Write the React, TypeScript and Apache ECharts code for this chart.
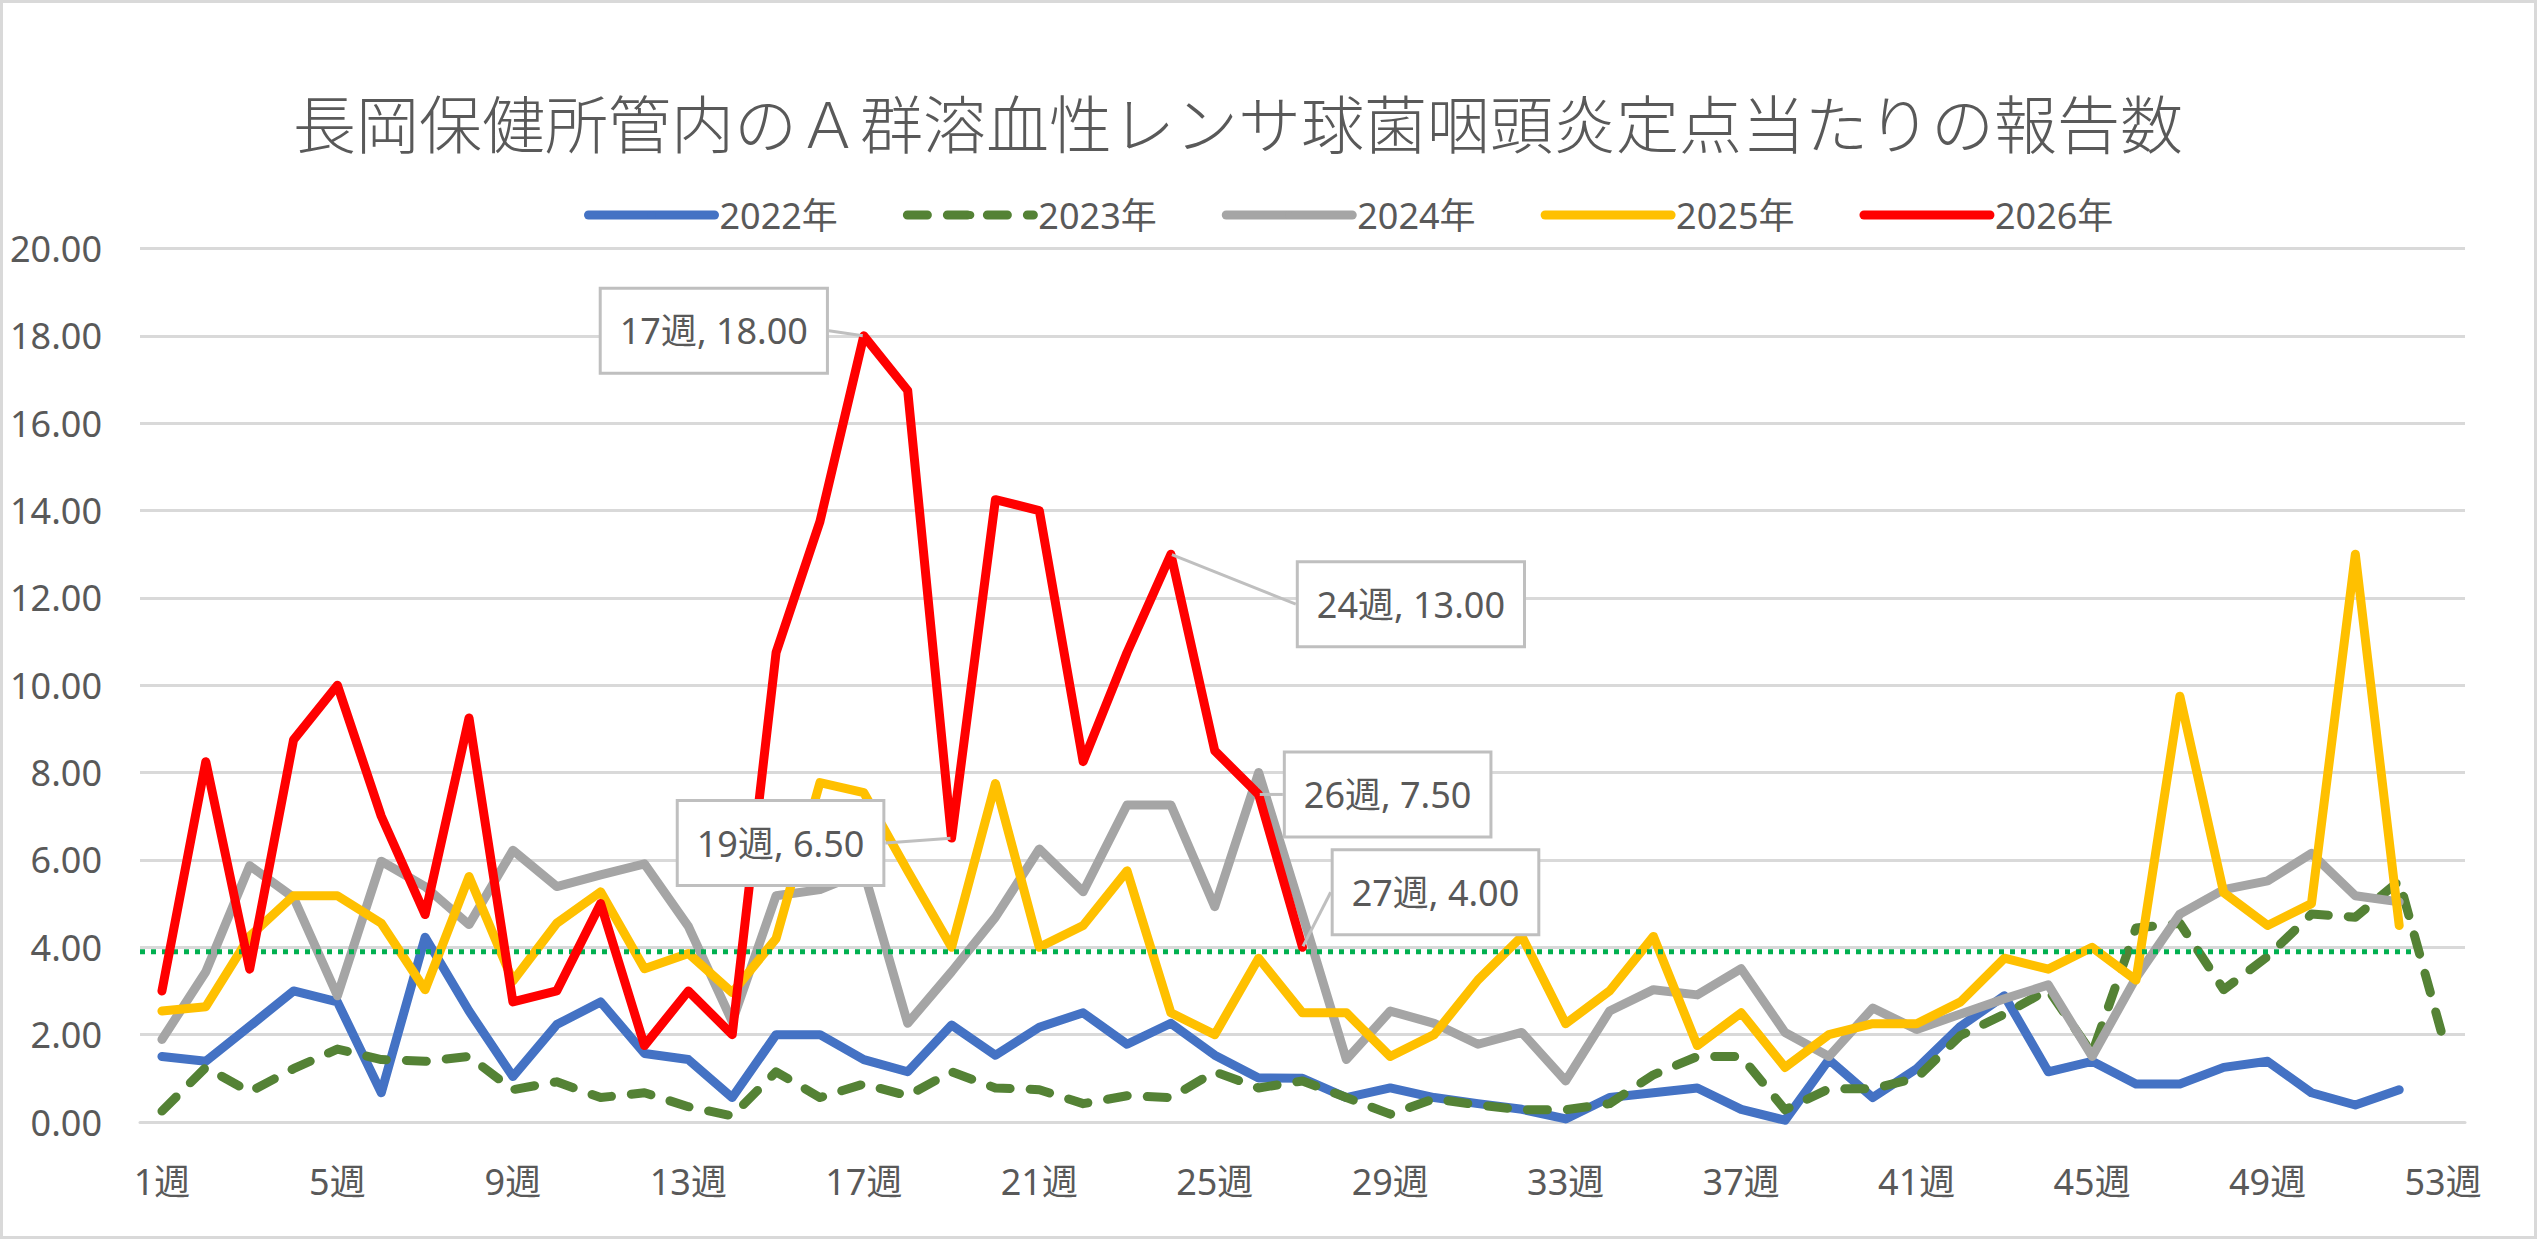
import React, { useEffect, useRef } from "react";
import * as echarts from "echarts";

// Weekly reports per sentinel site, 長岡保健所管内, by year
const WEEKS: string[] = Array.from({ length: 53 }, (_, i) => `${i + 1}週`);

const SERIES_NAMES = ["2022年", "2023年", "2024年", "2025年", "2026年"];

const Y2022 = [
  1.5, 1.39, 2.19, 3.0, 2.75, 0.67, 4.23, 2.54, 1.04, 2.23,
  2.75, 1.57, 1.43, 0.56, 2.0, 2.0, 1.43, 1.15, 2.22, 1.53,
  2.17, 2.5, 1.78, 2.26, 1.53, 1.01, 1.0, 0.56, 0.78, 0.56,
  0.42, 0.29, 0.07, 0.56, 0.67, 0.78, 0.29, 0.04, 1.43, 0.56,
  1.22, 2.19, 2.89, 1.15, 1.39, 0.87, 0.87, 1.25, 1.39, 0.67,
  0.39, 0.74,
];

const Y2023 = [
  0.25, 1.25, 0.69, 1.22, 1.67, 1.43, 1.39, 1.5, 0.74, 0.92,
  0.56, 0.67, 0.35, 0.14, 1.15, 0.56, 0.87, 0.6, 1.15, 0.78,
  0.74, 0.42, 0.6, 0.56, 1.15, 0.78, 0.94, 0.56, 0.18, 0.53,
  0.39, 0.28, 0.28, 0.42, 1.08, 1.5, 1.5, 0.28, 0.76, 0.76,
  1.01, 1.98, 2.47, 3.03, 1.57, 4.44, 4.55, 3.03, 3.79, 4.76,
  4.69, 5.52, 1.92,
];

const Y2024 = [
  1.89, 3.44, 5.87, 5.14, 2.89, 5.97, 5.39, 4.52, 6.22, 5.39,
  5.66, 5.91, 4.48, 2.3, 5.18, 5.32, 5.73, 2.26, 3.44, 4.69,
  6.25, 5.27, 7.26, 7.26, 4.93, 8.0, 4.75, 1.43, 2.54, 2.26,
  1.78, 2.05, 0.94, 2.54, 3.03, 2.91, 3.51, 2.05, 1.5, 2.61,
  2.12, 2.47, 2.82, 3.14, 1.5, 3.3, 4.76, 5.32, 5.52, 6.15,
  5.18, 5.04,
];

const Y2025 = [
  2.54, 2.64, 4.25, 5.18, 5.18, 4.55, 3.03, 5.62, 3.23, 4.55,
  5.27, 3.51, 3.86, 2.96, 4.2, 7.77, 7.54, 5.75, 4.0, 7.75,
  4.0, 4.5, 5.75, 2.5, 2.0, 3.75, 2.5, 2.5, 1.5, 2.0,
  3.25, 4.25, 2.25, 3.0, 4.25, 1.75, 2.5, 1.25, 2.0, 2.25,
  2.25, 2.75, 3.75, 3.5, 4.0, 3.25, 9.75, 5.25, 4.5, 5.0,
  13.0, 4.5,
];

const Y2026 = [
  3.0, 8.25, 3.5, 8.75, 10.0, 7.0, 4.75, 9.25, 2.75, 3.0,
  5.0, 1.75, 3.0, 2.0, 10.75, 13.75, 18.0, 16.75, 6.5, 14.25,
  14.0, 8.25, 10.75, 13.0, 8.5, 7.5, 4.0,
];

// Dotted reference level and the span (in category widths) it covers
const THRESHOLD = 3.9;
const THRESHOLD_SPAN = [0, 51.9];

// Weeks of 2026 that carry a callout, with the callout's shift from its point
const CALLOUT_WEEKS = [17, 19, 24, 26, 27];
const CALLOUT_SHIFT: Record<number, [number, number]> = {
  17: [-150, -5],
  19: [-171, 5],
  24: [240, 50],
  26: [129, 0],
  27: [133, -55],
};

const TITLE = "長岡保健所管内のＡ群溶血性レンサ球菌咽頭炎定点当たりの報告数";

const COLORS = ["#4472C4", "#548235", "#A5A5A5", "#FFC000", "#FF0000"];
const TEXT = "#595959";
const GRID = "#D9D9D9";
const FONT = "'Noto Sans', 'Noto Sans CJK JP', sans-serif";
const CJK = "'Noto Sans CJK JP', 'Noto Sans', sans-serif";

export default function App() {
  const ref = useRef<HTMLDivElement>(null);

  useEffect(() => {
    if (!ref.current) return;
    const chart = echarts.init(ref.current, undefined, { renderer: "svg" });

    const baseLine = (name: string, data: any[], color: string, extra: any = {}) => ({
      name,
      type: "line",
      data,
      color,
      symbol: "none",
      showSymbol: true,
      emphasis: { disabled: true },
      lineStyle: { color, width: 9, cap: "round", join: "round", ...(extra.lineStyle || {}) },
      z: extra.z ?? 2,
      ...(extra.rest || {}),
    });

    const data2026 = Y2026.map((v, i) => {
      const week = i + 1;
      if (!CALLOUT_WEEKS.includes(week)) return v;
      return {
        value: v,
        symbol: "circle",
        symbolSize: 2,
        label: {
          show: true,
          position: "inside",
          formatter: () => `${week}週, ${v.toFixed(2)}`,
          fontFamily: FONT,
          fontSize: 36,
          lineHeight: 42,
          color: TEXT,
          backgroundColor: "#FFFFFF",
          borderColor: "#BFBFBF",
          borderWidth: 3,
          padding: [20, 18],
        },
      };
    });

    const option: any = {
      animation: false,
      backgroundColor: "#FFFFFF",
      graphic: [
        {
          type: "rect",
          shape: { x: 1.5, y: 1.5, width: 2534, height: 1236 },
          style: { fill: "none", stroke: GRID, lineWidth: 3 },
          silent: true,
        },
      ],
      title: {
        text: TITLE,
        left: 288,
        top: 84,
        textStyle: { fontFamily: CJK, fontSize: 63, fontWeight: 300, color: TEXT },
      },
      legend: {
        data: SERIES_NAMES,
        left: 579,
        top: 192,
        itemWidth: 126,
        itemHeight: 10,
        itemGap: 65,
        lineStyle: { width: 9 },
        textStyle: { fontFamily: FONT, fontSize: 36, color: TEXT },
      },
      grid: { left: 140, right: 72, top: 248.5, bottom: 117 },
      xAxis: [
        {
          type: "category",
          data: WEEKS,
          boundaryGap: true,
          axisLine: { lineStyle: { color: GRID, width: 3 } },
          axisTick: { show: false },
          axisLabel: { interval: 3, margin: 41, fontFamily: FONT, fontSize: 36, color: TEXT },
        },
        { type: "value", min: 0, max: 53, show: false },
      ],
      yAxis: {
        type: "value",
        min: 0,
        max: 20,
        interval: 2,
        axisLine: { show: false },
        axisTick: { show: false },
        splitLine: { lineStyle: { color: GRID, width: 3 } },
        axisLabel: {
          margin: 38,
          fontFamily: FONT,
          fontSize: 36,
          color: TEXT,
          formatter: (v: number) => v.toFixed(2),
        },
      },
      series: [
        baseLine(SERIES_NAMES[0], Y2022, COLORS[0]),
        baseLine(SERIES_NAMES[1], Y2023, COLORS[1], { lineStyle: { type: [20, 20] } }),
        baseLine(SERIES_NAMES[2], Y2024, COLORS[2]),
        baseLine(SERIES_NAMES[3], Y2025, COLORS[3]),
        {
          name: "基準",
          type: "line",
          xAxisIndex: 1,
          data: THRESHOLD_SPAN.map((x) => [x, THRESHOLD]),
          symbol: "none",
          emphasis: { disabled: true },
          lineStyle: { color: "#00B050", width: 5, type: [5, 6], cap: "butt" },
          z: 2,
        },
        baseLine(SERIES_NAMES[4], data2026, COLORS[4], {
          z: 3,
          rest: {
            labelLine: { show: true, lineStyle: { color: "#BFBFBF", width: 3 } },
            labelLayout: (p: any) => {
              const s = CALLOUT_SHIFT[p.dataIndex + 1];
              return s ? { dx: s[0], dy: s[1] } : {};
            },
          },
        }),
      ],
    };

    chart.setOption(option);
    return () => chart.dispose();
  }, []);

  return (
    <div
      ref={ref}
      style={{ position: "fixed", left: 0, top: 0, width: 2537, height: 1239, background: "#fff" }}
    />
  );
}
